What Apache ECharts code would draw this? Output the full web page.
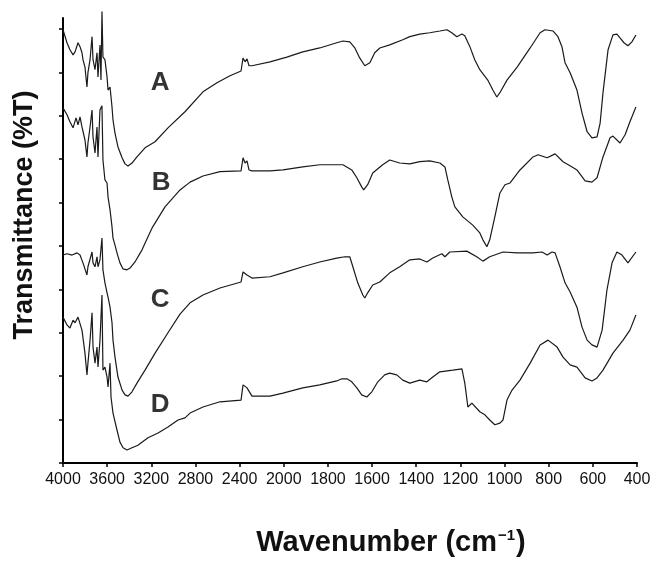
<!DOCTYPE html>
<html>
<head>
<meta charset="utf-8">
<script src="https://cdn.jsdelivr.net/npm/echarts@6/dist/echarts.min.js"></script>
<style>
  html, body { margin: 0; padding: 0; background: #fff; }
  #ftirChart { width: 662px; height: 569px; }
</style>
</head>
<body>
<div id="ftirChart"></div>
<script>
// wavenumber tick labels, evenly spaced on the axis (400 steps down to 2000, 200 steps after)
const xTickLabels = ['4000', '3600', '3200', '2800', '2400', '2000', '1800', '1600', '1400', '1200', '1000', '800', '600', '400'];
const yTickValues = [0, 10, 20, 30, 40, 50, 60, 70, 80, 90, 100];

// [wavenumber cm-1, transmittance (offset, arbitrary %T)]
const specA = [
  [4000, 99.8], [3964, 96.8], [3937, 95.2], [3909, 94.0], [3891, 94.7], [3864, 96.8], [3846, 95.9], [3828, 94.5],
  [3819, 92.9], [3801, 91.2], [3783, 86.6], [3774, 89.9], [3755, 92.9], [3737, 98.2], [3728, 92.9], [3710, 90.6],
  [3692, 94.5], [3683, 88.9], [3665, 96.3], [3656, 88.2], [3647, 104.0], [3638, 93.5], [3620, 92.9], [3601, 88.9],
  [3592, 85.9], [3574, 86.6], [3556, 82.0], [3547, 79.0], [3529, 76.0], [3502, 72.8], [3465, 70.3], [3438, 68.9],
  [3411, 68.4], [3375, 69.1], [3330, 70.5], [3257, 72.6], [3166, 74.0], [3049, 77.2], [2895, 80.9], [2732, 85.5],
  [2605, 87.6], [2487, 89.2], [2387, 90.3], [2369, 93.3], [2351, 92.4], [2333, 93.1], [2315, 91.5], [2288, 91.5],
  [2125, 92.4], [1986, 93.5], [1914, 94.7], [1837, 95.6], [1760, 96.8], [1732, 97.2], [1701, 97.0], [1678, 95.6],
  [1656, 93.3], [1633, 91.5], [1610, 92.2], [1588, 94.5], [1565, 95.6], [1520, 96.3], [1461, 97.5], [1429, 98.2],
  [1384, 98.8], [1339, 99.1], [1293, 99.5], [1261, 99.8], [1239, 99.1], [1216, 98.2], [1193, 98.8], [1180, 98.4],
  [1157, 95.9], [1135, 92.9], [1112, 90.6], [1076, 88.2], [1053, 85.9], [1035, 84.3], [1021, 85.3], [989, 88.2],
  [943, 91.2], [884, 95.6], [839, 99.1], [817, 99.8], [780, 99.5], [758, 98.2], [740, 95.9], [726, 92.2],
  [703, 89.9], [672, 85.9], [649, 80.6], [626, 76.3], [604, 74.9], [581, 75.1], [567, 78.3], [554, 85.3],
  [531, 95.2], [509, 98.6], [491, 98.8], [477, 97.9], [459, 96.8], [441, 96.1], [423, 97.0], [405, 98.6]
];
const specB = [
  [4000, 81.8], [3964, 80.2], [3937, 78.6], [3909, 77.2], [3882, 79.5], [3864, 77.9], [3846, 79.7], [3828, 77.4],
  [3801, 74.4], [3783, 70.5], [3774, 73.7], [3755, 77.4], [3737, 81.3], [3728, 75.1], [3710, 71.4], [3692, 77.4],
  [3683, 70.5], [3665, 81.3], [3647, 82.3], [3638, 69.8], [3620, 65.2], [3601, 64.5], [3592, 61.3], [3574, 58.3],
  [3556, 54.4], [3547, 51.8], [3529, 50.2], [3511, 48.4], [3484, 46.1], [3456, 44.7], [3420, 44.5], [3393, 44.9],
  [3348, 46.3], [3284, 49.1], [3230, 52.1], [3194, 54.1], [3076, 59.0], [2940, 62.9], [2849, 64.7], [2732, 66.1],
  [2578, 67.1], [2387, 67.3], [2369, 70.3], [2351, 69.1], [2333, 69.6], [2315, 67.5], [2288, 67.3], [2125, 67.3],
  [2007, 67.5], [1914, 68.2], [1837, 68.7], [1732, 68.7], [1692, 67.5], [1669, 65.7], [1647, 63.6], [1638, 62.9],
  [1620, 64.1], [1597, 66.8], [1552, 68.7], [1520, 69.8], [1475, 69.1], [1429, 68.9], [1384, 69.4], [1339, 69.6],
  [1293, 69.1], [1270, 68.2], [1257, 65.2], [1239, 61.3], [1225, 59.0], [1189, 56.7], [1144, 54.8], [1112, 53.0],
  [1098, 51.4], [1080, 49.8], [1067, 51.4], [1044, 56.7], [1021, 62.2], [998, 64.1], [975, 64.5], [930, 67.5],
  [871, 70.5], [848, 71.0], [807, 70.3], [771, 71.2], [735, 69.4], [694, 68.2], [672, 67.5], [635, 65.0],
  [604, 64.7], [581, 65.7], [554, 70.5], [522, 74.9], [509, 75.3], [477, 73.7], [454, 75.6], [432, 78.6], [405, 82.0]
];
const specC = [
  [4000, 47.9], [3964, 48.2], [3918, 47.9], [3873, 48.4], [3846, 47.9], [3819, 46.1], [3783, 43.3], [3774, 45.2],
  [3737, 48.6], [3728, 46.1], [3710, 45.2], [3692, 47.5], [3683, 45.2], [3665, 46.8], [3647, 51.8], [3638, 44.5],
  [3620, 41.5], [3601, 39.2], [3592, 38.2], [3574, 35.9], [3556, 32.3], [3547, 28.3], [3529, 24.4], [3502, 19.8],
  [3465, 16.8], [3438, 15.7], [3411, 15.4], [3375, 16.4], [3330, 18.4], [3257, 21.4], [3166, 25.3], [3049, 30.0],
  [2940, 34.3], [2849, 36.9], [2732, 38.7], [2578, 40.3], [2387, 41.7], [2369, 44.0], [2333, 43.3], [2288, 42.6],
  [2125, 42.9], [2007, 43.8], [1914, 45.2], [1837, 46.3], [1760, 47.2], [1723, 47.5], [1701, 47.5], [1687, 45.2],
  [1665, 41.5], [1642, 38.7], [1633, 38.0], [1620, 39.2], [1597, 41.0], [1565, 41.7], [1520, 43.8], [1475, 45.2],
  [1429, 46.8], [1384, 47.0], [1352, 46.3], [1325, 47.2], [1284, 48.2], [1270, 47.5], [1248, 48.6], [1171, 48.8],
  [1126, 47.5], [1098, 46.5], [1067, 47.5], [1007, 48.6], [943, 48.4], [871, 48.4], [830, 48.6], [807, 47.9],
  [785, 48.6], [771, 48.4], [749, 45.2], [726, 41.5], [703, 39.4], [672, 35.9], [649, 31.3], [626, 28.3],
  [604, 27.2], [581, 26.7], [558, 30.6], [536, 39.9], [513, 46.1], [491, 48.6], [468, 47.9], [441, 46.1], [405, 48.6]
];
const specD = [
  [4000, 33.6], [3964, 31.8], [3937, 31.1], [3909, 32.9], [3891, 32.3], [3864, 33.6], [3828, 30.6], [3801, 25.3],
  [3783, 20.3], [3774, 23.0], [3755, 28.3], [3737, 34.6], [3728, 26.7], [3710, 23.0], [3692, 26.7], [3683, 22.1],
  [3665, 28.3], [3647, 38.7], [3638, 21.4], [3620, 22.1], [3601, 19.8], [3592, 17.5], [3574, 23.0], [3565, 15.2],
  [3547, 11.5], [3511, 7.6], [3484, 4.8], [3456, 3.5], [3420, 3.0], [3375, 3.5], [3321, 4.1], [3230, 5.8],
  [3139, 6.9], [3049, 8.3], [2958, 9.9], [2895, 10.4], [2849, 11.5], [2732, 12.9], [2578, 14.1], [2387, 14.5],
  [2369, 18.0], [2333, 17.3], [2288, 15.4], [2125, 15.4], [2007, 16.1], [1914, 17.3], [1837, 18.0], [1760, 18.9],
  [1737, 19.4], [1714, 19.4], [1692, 18.7], [1669, 17.3], [1647, 15.7], [1624, 15.2], [1601, 16.4], [1574, 18.7],
  [1543, 20.3], [1520, 20.7], [1488, 20.3], [1461, 19.1], [1429, 18.4], [1384, 19.1], [1352, 18.7], [1325, 19.8],
  [1293, 21.0], [1234, 21.4], [1193, 21.7], [1180, 18.4], [1166, 12.9], [1148, 13.8], [1112, 11.8], [1089, 11.1],
  [1067, 9.9], [1044, 8.8], [1021, 9.2], [1007, 9.9], [989, 14.5], [966, 16.8], [930, 19.1], [884, 23.0],
  [839, 27.2], [803, 28.3], [762, 26.7], [735, 24.4], [703, 22.6], [672, 22.1], [635, 19.6], [604, 18.9],
  [581, 19.6], [554, 21.4], [509, 25.3], [463, 28.3], [432, 30.6], [405, 34.1]
];
const curveNames = ['A', 'B', 'C', 'D'];
const curveLabelAt = [[3121, 87.6], [3112, 64.5], [3121, 37.6], [3121, 13.4]];

// the axis is split: 4000-2000 in 400 steps, 2000-400 in 200 steps, same width per step
const toAxis = (w) => (w >= 2000 ? (4000 - w) / 400 : 5 + (2000 - w) / 200);
const mapSpec = (spec) => spec.map(p => [toAxis(p[0]), p[1]]);

const lineSeries = (name, spec) => ({
  name: name,
  type: 'line',
  data: mapSpec(spec),
  showSymbol: false,
  clip: false,
  lineStyle: { color: '#1a1a1a', width: 1.2 },
  silent: true
});

const option = {
  animation: false,
  backgroundColor: '#fff',
  grid: { left: 63, right: 25, top: 18, bottom: 106, containLabel: false },
  xAxis: {
    type: 'value',
    min: 0,
    max: 13,
    interval: 1,
    axisLine: { show: true, lineStyle: { color: '#000', width: 2 } },
    axisTick: { show: true, length: 4, lineStyle: { color: '#000', width: 1.5 } },
    axisLabel: {
      formatter: (v) => xTickLabels[Math.round(v)],
      fontFamily: 'Liberation Sans, Arial, sans-serif',
      fontSize: 16,
      color: '#111',
      margin: 9
    },
    splitLine: { show: false }
  },
  yAxis: {
    type: 'value',
    min: 0,
    max: 102.5,
    axisLine: { show: true, onZero: false, lineStyle: { color: '#000', width: 2 } },
    axisTick: { show: true, length: 4, customValues: yTickValues, lineStyle: { color: '#000', width: 1.5 } },
    axisLabel: { show: false },
    splitLine: { show: false }
  },
  graphic: [
    {
      type: 'text',
      x: 25,
      y: 215,
      rotation: Math.PI / 2,
      style: {
        text: 'Transmittance (%T)',
        font: 'bold 27px "Liberation Sans", Arial, sans-serif',
        fill: '#111',
        textAlign: 'center',
        textVerticalAlign: 'middle'
      }
    },
    {
      type: 'text',
      x: 391,
      y: 543,
      style: {
        text: '{t|Wavenumber (cm}{s|\u22121}{t|)}',
        textAlign: 'center',
        textVerticalAlign: 'middle',
        rich: {
          t: { font: 'bold 29px "Liberation Sans", Arial, sans-serif', fill: '#111' },
          s: { font: 'bold 15px "Liberation Sans", Arial, sans-serif', fill: '#111', verticalAlign: 'top', padding: [0, 1, 12, 1] }
        }
      }
    }
  ],
  series: [
    lineSeries('A', specA),
    lineSeries('B', specB),
    lineSeries('C', specC),
    lineSeries('D', specD),
    {
      name: 'labels',
      type: 'scatter',
      silent: true,
      symbolSize: 1,
      itemStyle: { color: 'rgba(0,0,0,0)' },
      data: curveNames.map((n, i) => ({ name: n, value: [toAxis(curveLabelAt[i][0]), curveLabelAt[i][1]] })),
      label: {
        show: true,
        position: 'inside',
        formatter: (p) => p.name,
        fontFamily: 'Liberation Sans, Arial, sans-serif',
        fontWeight: 'bold',
        fontSize: 26,
        color: '#000'
      }
    }
  ]
};

const chart = echarts.init(document.getElementById('ftirChart'), null, { renderer: 'canvas' });
chart.setOption(option);
</script>
</body>
</html>
